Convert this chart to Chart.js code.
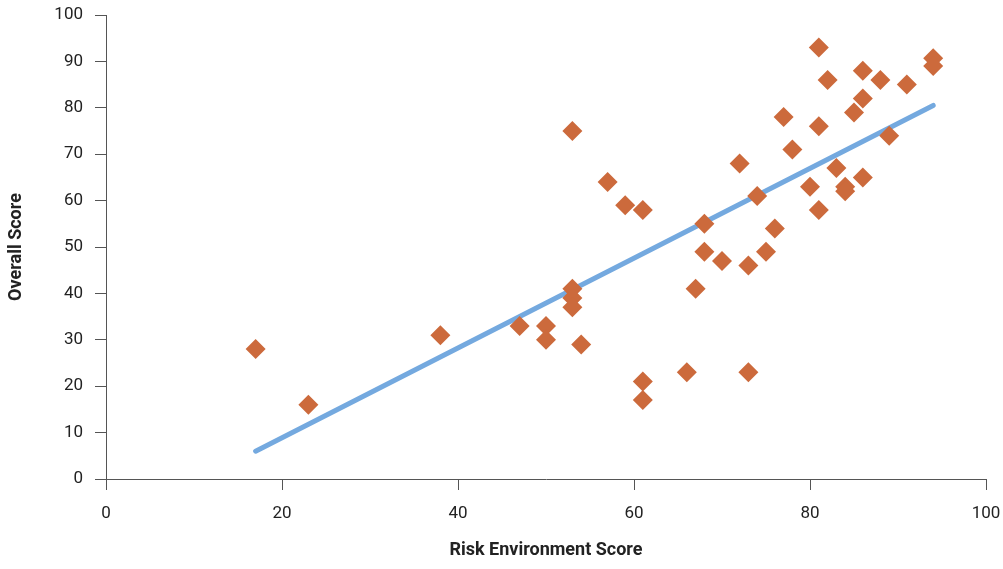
<!DOCTYPE html>
<html>
<head>
<meta charset="utf-8">
<script src="https://cdn.jsdelivr.net/npm/chart.js@4"></script>
<style>
  html, body { margin: 0; padding: 0; background: #fff; }
  #wrap { width: 1003px; height: 569px; }
</style>
</head>
<body>
<div id="wrap"><canvas id="scoreChart" width="1003" height="569"></canvas></div>
<script>
// Risk environment score (x) vs overall score (y)
const riskScores = [17, 23, 38, 47, 50, 50, 53, 53, 53, 53, 54, 57, 59, 61, 61, 61, 66, 67, 68, 68, 70, 72, 73, 73, 74, 75, 76, 77, 78, 80, 81, 81, 81, 82, 83, 84, 84, 85, 86, 86, 86, 88, 89, 91, 94, 94];
const overallScores = [28, 16, 31, 33, 33, 30, 75, 41, 39, 37, 29, 64, 59, 58, 21, 17, 23, 41, 55, 49, 47, 68, 46, 23, 61, 49, 54, 78, 71, 63, 93, 76, 58, 86, 67, 63, 62, 79, 88, 82, 65, 86, 74, 85, 90.7, 89];

// trend line ends
const trendX = [17, 94];
const trendY = [6, 80.5];

const xTicks = [0, 20, 40, 60, 80, 100];
const yTicks = [0, 10, 20, 30, 40, 50, 60, 70, 80, 90, 100];

const points = riskScores.map((x, i) => ({ x: x, y: overallScores[i] }));
const trend = trendX.map((x, i) => ({ x: x, y: trendY[i] }));

const axisColor = "#555555";
const tickFont = { family: "Roboto", size: 17 };
const titleFont = { family: "Roboto", size: 18, weight: "bold" };

const ctx = document.getElementById("scoreChart").getContext("2d");
const scoreChart = new Chart(ctx, {
  type: "scatter",
  data: {
    datasets: [
      {
        label: "Countries",
        data: points,
        pointStyle: "rectRot",
        pointRadius: 10,
        pointHoverRadius: 10,
        backgroundColor: "#CC6A3C",
        borderColor: "#CC6A3C",
        borderWidth: 0,
      },
      {
        type: "line",
        label: "Trend",
        data: trend,
        borderColor: "#74A9DF",
        borderWidth: 5,
        borderCapStyle: "round",
        pointRadius: 0,
        fill: false,
      },
    ],
  },
  options: {
    responsive: false,
    animation: false,
    layout: { padding: { top: 15, right: 17, left: 0, bottom: 0 } },
    plugins: {
      legend: { display: false },
      tooltip: { enabled: false },
    },
    scales: {
      x: {
        type: "linear",
        min: 0,
        max: 100,
        afterBuildTicks: (scale) => {
          scale.ticks = xTicks.map((v) => ({ value: v }));
        },
        afterFit: (scale) => {
          scale.height = 90;
          scale.paddingLeft = 0;
          scale.paddingRight = 0;
        },
        grid: {
          drawOnChartArea: false,
          drawTicks: true,
          tickLength: 11,
          color: axisColor,
        },
        border: { color: axisColor, width: 1 },
        ticks: { font: tickFont, color: "#222", padding: 14, maxRotation: 0 },
        title: {
          display: true,
          text: "Risk Environment Score",
          font: titleFont,
          color: "#222",
          padding: { top: 0, bottom: 8 },
        },
      },
      y: {
        type: "linear",
        min: 0,
        max: 100,
        afterBuildTicks: (scale) => {
          scale.ticks = yTicks.map((v) => ({ value: v }));
        },
        afterFit: (scale) => {
          scale.width = 106;
          scale.paddingTop = 0;
          scale.paddingBottom = 0;
        },
        grid: {
          drawOnChartArea: false,
          drawTicks: true,
          tickLength: 11,
          color: axisColor,
        },
        border: { color: axisColor, width: 1 },
        ticks: { font: tickFont, color: "#222", padding: 12 },
        title: {
          display: true,
          text: "Overall Score",
          font: titleFont,
          color: "#222",
          padding: { top: 6, bottom: 0 },
        },
      },
    },
  },
});
</script>
</body>
</html>
